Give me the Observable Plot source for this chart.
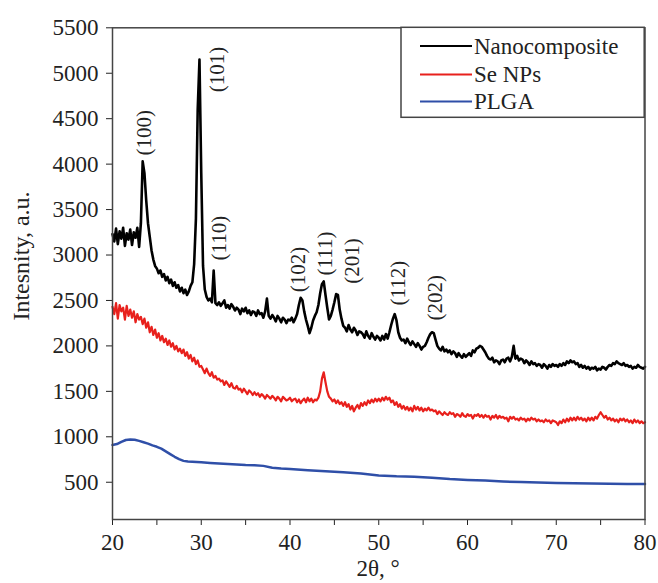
<!DOCTYPE html>
<html><head><meta charset="utf-8">
<script src="https://cdn.jsdelivr.net/npm/d3@7"></script>
<script src="https://cdn.jsdelivr.net/npm/@observablehq/plot@0.6"></script>
<style>body{margin:0;background:#fff}#chart{width:658px;height:583px}</style>
</head><body><div id="chart"></div>
<script>
const seriesNames = ["Nanocomposite", "Se NPs", "PLGA"];
const seriesColors = ["#000000", "#e8201c", "#2f4fa8"];

// uniform 2θ grid for the measured patterns
const gridStart = 20, gridStep = 0.2;

const nanoY = [
  3230, 3150, 3290, 3120, 3260, 3180, 3300, 3100, 3240, 3170,
  3280, 3110, 3250, 3190, 3300, 3090, 3350, 4030, 3900, 3600,
  3350, 3200, 3050, 2950, 2880, 2850, 2800, 2830, 2760, 2790,
  2720, 2760, 2690, 2730, 2660, 2700, 2640, 2670, 2600, 2640,
  2580, 2620, 2560, 2600, 2660, 2700, 2900, 3400, 4600, 5150,
  3900, 2880, 2620, 2540, 2500, 2520, 2480, 2830, 2470, 2450,
  2480, 2440, 2470, 2500, 2420, 2450, 2410, 2460, 2430, 2390,
  2420, 2400, 2350, 2410, 2380, 2420, 2360, 2390, 2340, 2380,
  2370, 2330, 2390, 2350, 2360, 2310, 2380, 2520, 2330, 2300,
  2340, 2310, 2270, 2330, 2300, 2260, 2310, 2290, 2250, 2290,
  2280, 2310, 2260, 2300, 2350, 2450, 2530, 2500, 2380, 2290,
  2220, 2140, 2200, 2280, 2330, 2370, 2450, 2580, 2680, 2710,
  2560, 2420, 2290, 2330, 2400, 2480, 2570, 2560, 2400, 2300,
  2220, 2200, 2160, 2230, 2180, 2150, 2200, 2170, 2120, 2160,
  2150, 2130, 2090, 2160, 2110, 2080, 2140, 2100, 2070, 2110,
  2090, 2060, 2110, 2070, 2130, 2080, 2150, 2230, 2300, 2350,
  2280, 2150, 2090, 2060, 2070, 2030, 2080, 2040, 2010, 2050,
  2020, 1990, 2030, 2000, 1960, 1990, 2000, 2040, 2090, 2130,
  2150, 2140, 2070, 2000, 1970, 1950, 1990, 1940, 1960, 1930,
  1950, 1910, 1940, 1920, 1880, 1920, 1890, 1870, 1910, 1880,
  1900, 1920, 1890, 1950, 1930, 1970, 1980, 2000, 1990, 1960,
  1930, 1890, 1860, 1850, 1870, 1820, 1840, 1830, 1800, 1840,
  1850, 1820, 1860, 1870, 1830, 1880, 2000, 1860, 1890, 1840,
  1860, 1850, 1810, 1840, 1820, 1790, 1830, 1800, 1810, 1780,
  1800, 1790, 1760, 1800, 1780, 1750, 1790, 1770, 1800, 1780,
  1790, 1770, 1800, 1780, 1810, 1790, 1830, 1810, 1840, 1820,
  1830, 1800, 1810, 1770, 1790, 1760, 1780, 1750, 1770, 1740,
  1760, 1750, 1770, 1730, 1750, 1740, 1770, 1760, 1740, 1770,
  1790, 1780, 1810, 1800, 1830, 1810, 1800, 1790, 1810, 1780,
  1790, 1770, 1780, 1750, 1770, 1760, 1790, 1770, 1760, 1750,
  1770
];

const seNpsY = [
  2430, 2350, 2470, 2300, 2450, 2380, 2420, 2290, 2440, 2330,
  2400, 2310, 2380, 2260, 2350, 2290, 2320, 2240, 2300, 2200,
  2260, 2150, 2210, 2120, 2180, 2090, 2140, 2060, 2110, 2040,
  2080, 2010, 2060, 1990, 2030, 1960, 2000, 1940, 1970, 1920,
  1960, 1890, 1930, 1860, 1900, 1830, 1870, 1800, 1840, 1770,
  1780, 1740, 1700, 1750, 1700, 1670, 1710, 1650, 1670, 1630,
  1640, 1610, 1620, 1570, 1610, 1580, 1550, 1590, 1540, 1530,
  1560, 1520, 1530, 1490, 1530, 1500, 1470, 1510, 1490, 1460,
  1490, 1460, 1480, 1440, 1470, 1450, 1420, 1460, 1440, 1420,
  1450, 1430, 1400, 1440, 1420, 1390, 1440, 1420, 1400, 1410,
  1430, 1390, 1410, 1420, 1380, 1410, 1370, 1400, 1420, 1380,
  1430, 1390, 1420, 1380, 1410, 1400, 1430, 1500, 1640, 1710,
  1600, 1500, 1440, 1420, 1390, 1410, 1370, 1400, 1360, 1380,
  1340, 1380, 1330, 1360, 1300, 1340, 1280, 1320, 1350, 1310,
  1370, 1340, 1380, 1350, 1400, 1370, 1410, 1380, 1420, 1390,
  1420, 1390, 1430, 1400, 1440, 1410, 1430, 1380, 1400, 1350,
  1380, 1330, 1360, 1310, 1340, 1300, 1330, 1290, 1320, 1280,
  1340, 1300, 1330, 1290, 1320, 1280, 1310, 1290, 1320, 1290,
  1300, 1280, 1290, 1250, 1280, 1260, 1240, 1270, 1250, 1240,
  1270, 1250, 1260, 1220, 1250, 1240, 1220, 1260, 1230, 1220,
  1250, 1230, 1240, 1200, 1240, 1230, 1250, 1220, 1240, 1210,
  1240, 1220, 1230, 1190, 1230, 1210, 1240, 1200, 1230, 1210,
  1220, 1200, 1210, 1170, 1220, 1200, 1220, 1190, 1200, 1180,
  1210, 1190, 1200, 1170, 1200, 1180, 1210, 1190, 1200, 1170,
  1190, 1170, 1180, 1160, 1190, 1170, 1180, 1150, 1180, 1170,
  1160, 1130, 1170, 1150, 1190, 1160, 1200, 1170, 1210, 1180,
  1210, 1180, 1220, 1190, 1210, 1180, 1200, 1170, 1210, 1180,
  1210, 1180, 1220, 1200, 1240, 1270, 1240, 1210, 1230, 1190,
  1210, 1180, 1200, 1170, 1190, 1160, 1200, 1180, 1200, 1170,
  1190, 1160, 1180, 1150, 1190, 1160, 1180, 1150, 1170, 1150,
  1160
];

const plgaX = [20, 20.5, 21, 21.5, 22, 22.5, 23, 23.5, 24, 24.5, 25, 25.5, 26, 26.5, 27, 27.5, 28, 28.5, 29,
  30, 31, 32, 33, 34, 35, 36, 37, 38, 39, 40,
  42, 44, 46, 48, 50, 52, 54, 56, 58, 60, 62, 64, 66, 68, 70, 72, 74, 76, 78, 80];
const plgaY = [910, 920, 945, 965, 970, 968, 955, 940, 925, 905, 890, 870, 840, 810, 780, 755, 735, 728, 725,
  720, 712, 705, 700, 695, 690, 688, 680, 660, 650, 645,
  632, 622, 610, 595, 575, 565, 560, 550, 535, 525, 518, 508, 502, 496, 492, 488, 485, 482, 481, 480];

const peakLabels = ["(100)", "(101)", "(110)", "(102)", "(111)", "(201)", "(112)", "(202)"];
const peakLabelX = [23.6, 31.8, 32.05, 40.96, 44.0, 47.0, 52.2, 56.4];
const peakLabelY = [4095, 4790, 2940, 2590, 2775, 2685, 2445, 2280];

const xTicks = [20, 25, 30, 35, 40, 45, 50, 55, 60, 65, 70, 75, 80];
const yTicks = [500, 1000, 1500, 2000, 2500, 3000, 3500, 4000, 4500, 5000, 5500];
const xLabel = "2θ, °";
const yLabel = "Intesnity, a.u.";

const nanoData = nanoY.map((v, i) => ({x: gridStart + i * gridStep, y: v}));
const seData = seNpsY.map((v, i) => ({x: gridStart + i * gridStep, y: v}));
const plgaData = plgaX.map((x, i) => ({x, y: plgaY[i]}));
const peakData = peakLabels.map((t, i) => ({t, x: peakLabelX[i], y: peakLabelY[i]}));

const chart = Plot.plot({
  width: 658,
  height: 583,
  marginLeft: 112,
  marginRight: 13.5,
  marginTop: 27.3,
  marginBottom: 64,
  style: {fontFamily: "'Liberation Serif', serif", fontSize: "23px", color: "#222", background: "#fff"},
  x: {domain: [20, 80], ticks: xTicks, tickFormat: d => d % 10 === 0 ? String(d) : "", tickSize: 6, tickPadding: 8, label: null},
  y: {domain: [90, 5500], ticks: yTicks, tickFormat: d => String(d), tickSize: 6, tickPadding: 8, label: null},
  marks: [
    Plot.line(plgaData, {x: "x", y: "y", stroke: seriesColors[2], strokeWidth: 2.5}),
    Plot.line(seData, {x: "x", y: "y", stroke: seriesColors[1], strokeWidth: 2.2}),
    Plot.line(nanoData, {x: "x", y: "y", stroke: seriesColors[0], strokeWidth: 2.6}),
    Plot.text(peakData, {x: "x", y: "y", text: "t", rotate: -90, textAnchor: "start", lineAnchor: "middle", fontSize: 21, fill: "#222"}),
    Plot.frame({stroke: "#444", strokeWidth: 1.5})
  ]
});
document.getElementById("chart").appendChild(chart);

const svg = d3.select(chart);
// axis titles
svg.append("text").attr("transform", "translate(29,256) rotate(-90)")
  .attr("text-anchor", "middle").attr("font-size", 24).attr("fill", "#222").text(yLabel);
svg.append("text").attr("x", 378).attr("y", 576)
  .attr("text-anchor", "middle").attr("font-size", 23).attr("fill", "#222").text(xLabel);

// legend box
const lg = svg.append("g");
lg.append("rect").attr("x", 401).attr("y", 27.3).attr("width", 243.2).attr("height", 90)
  .attr("fill", "#fff").attr("stroke", "#444").attr("stroke-width", 1.5);
const rowY = [46, 74.5, 101.5];
seriesNames.forEach((name, i) => {
  lg.append("line").attr("x1", 420).attr("x2", 472).attr("y1", rowY[i]).attr("y2", rowY[i])
    .attr("stroke", seriesColors[i]).attr("stroke-width", 2.2);
  lg.append("text").attr("x", 474).attr("y", rowY[i]).attr("dy", "0.33em")
    .attr("text-anchor", "start").attr("font-size", 23).attr("fill", "#222").text(name);
});
</script>
</body></html>
